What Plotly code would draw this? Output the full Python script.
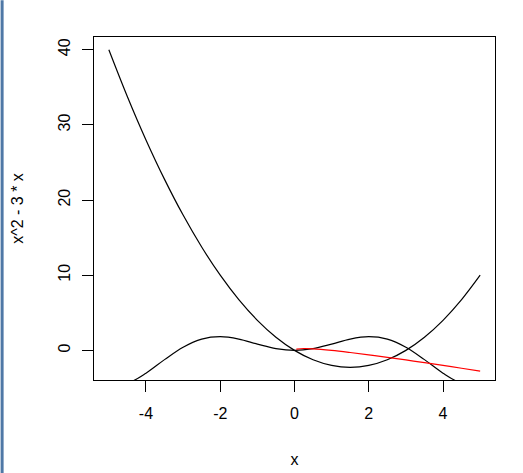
import plotly.graph_objects as go

# Curve 1: parabola
x_par = [-5, -4.5, -4, -3.5, -3, -2.5, -2, -1.5, -1, -0.5, 0, 0.5, 1, 1.5, 2, 2.5, 3, 3.5, 4, 4.5, 5]
y_par = [40, 33.75, 28, 22.75, 18, 13.75, 10, 6.75, 4, 1.75, 0, -1.25, -2, -2.25, -2, -1.25, 0, 1.75, 4, 6.75, 10]

# Curve 2: wavy black curve
x_wave = [-5, -4.5, -4, -3.5, -3, -2.5, -2, -1.5, -1, -0.5, 0, 0.5, 1, 1.5, 2, 2.5, 3, 3.5, 4, 4.5, 5]
y_wave = [-4.79, -4.40, -3.03, -1.23, 0.42, 1.50, 1.82, 1.50, 0.84, 0.24, 0, 0.24, 0.84, 1.50, 1.82, 1.50, 0.42, -1.23, -3.03, -4.40, -4.79]

# Curve 3: red curve
x_red = [0.05, 0.25, 0.5, 1, 1.5, 2, 2.5, 3, 3.5, 4, 4.5, 5]
y_red = [0.17, 0.25, 0.21, 0.0, -0.28, -0.59, -0.92, -1.27, -1.63, -2.0, -2.38, -2.76]

x_ticks = [-4, -2, 0, 2, 4]
y_ticks = [0, 10, 20, 30, 40]

FONT = "Liberation Sans, Arial, sans-serif"

fig = go.Figure()
fig.add_trace(go.Scatter(x=x_par, y=y_par, mode="lines",
                         line=dict(color="black", width=1.2, shape="spline", smoothing=1)))
fig.add_trace(go.Scatter(x=x_wave, y=y_wave, mode="lines",
                         line=dict(color="black", width=1.2, shape="spline", smoothing=1)))
fig.add_trace(go.Scatter(x=x_red, y=y_red, mode="lines",
                         line=dict(color="red", width=1.2, shape="spline", smoothing=1)))

L, R, T, B = 93.5, 28, 36.7, 93
W, H = 523, 473
pw = W - L - R

axis_common = dict(showgrid=False, zeroline=False, showline=True, mirror=True,
                   linecolor="black", linewidth=1, ticks="outside", ticklen=11,
                   tickcolor="black", tickwidth=1,
                   tickfont=dict(family=FONT, size=16, color="black"))

fig.update_layout(
    width=W, height=H,
    margin=dict(l=L, r=R, t=T, b=B, autoexpand=False),
    paper_bgcolor="white", plot_bgcolor="white",
    showlegend=False,
    font=dict(family=FONT, size=16, color="black"),
    xaxis=dict(range=[-5.4, 5.4], tickvals=x_ticks, ticktext=[str(v) for v in x_ticks],
               title=dict(text="x", font=dict(family=FONT, size=16), standoff=32),
               ticklabelstandoff=8, automargin=False, **axis_common),
    yaxis=dict(range=[-3.94, 41.69], tickvals=y_ticks, ticktext=[str(v) for v in y_ticks],
               tickangle=-90,
               title=dict(text="x^2 - 3 * x", font=dict(family=FONT, size=16), standoff=27),
               ticklabelstandoff=6, automargin=False, **axis_common),
    shapes=[dict(type="rect", xref="paper", yref="paper",
                 x0=-L / pw, x1=(3 - L) / pw, y0=-B / (H - T - B), y1=1 + T / (H - T - B),
                 fillcolor="#4f78a6", line=dict(width=0), layer="below")],
)

fig.write_html("out.html", config={"displayModeBar": False},
               post_script="document.body.style.margin='0';document.body.style.overflow='hidden';")
